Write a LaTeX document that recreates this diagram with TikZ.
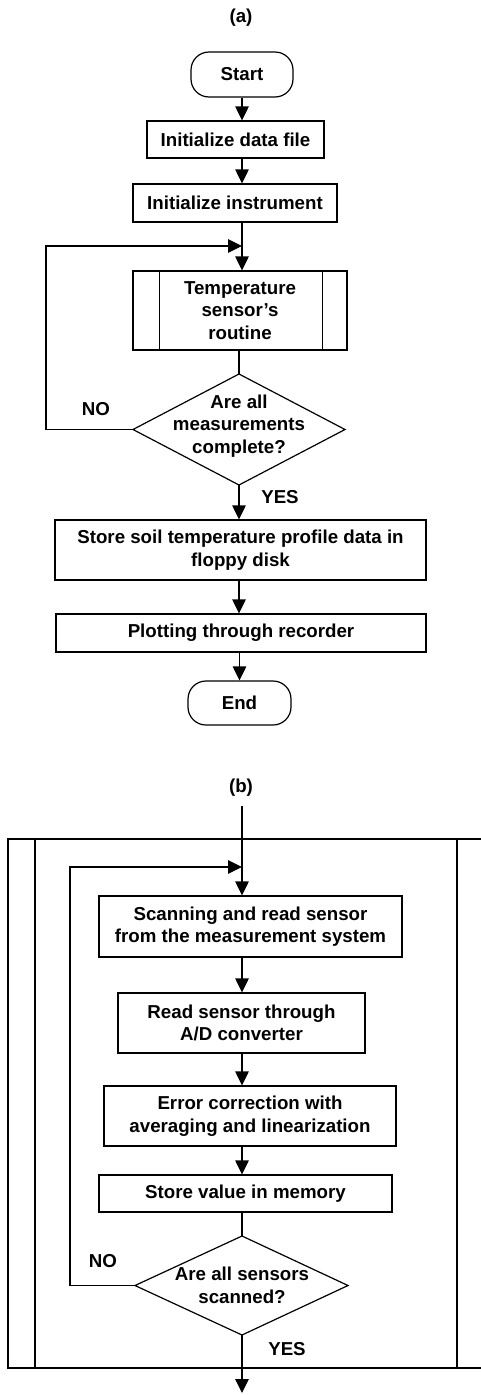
\documentclass[tikz,border=0pt]{standalone}
\usepackage{fontspec}
\setmainfont{Liberation Sans}
\usetikzlibrary{arrows.meta}
\begin{document}
\begin{tikzpicture}[x=1pt,y=-1pt,
  every node/.style={font=\fontsize{18.7}{22.5}\selectfont\bfseries},
  box/.style={draw, line width=1.2pt, inner sep=0pt, align=center},
  term/.style={box, rounded corners=18pt},
  ln/.style={line width=1.2pt},
  arr/.style={ln, -{Triangle[length=14pt,width=13.5pt]}},
  lbl/.style={inner sep=0pt}]
\useasboundingbox (0,0) rectangle (481,1395);
% ---------------- (a) ----------------
\node[lbl] (ta) at (241,18) {(a)};
\node[term, minimum width=102pt, minimum height=45pt] (start) at (242,74.5) {Start};
\node[box, minimum width=177pt, minimum height=37pt] (init1) at (235.5,139.5) {Initialize data file};
\node[box, minimum width=204pt, minimum height=38pt] (init2) at (235,203) {Initialize instrument};
\node[box, minimum width=214pt, minimum height=79pt] (temp) at (240,310.5) {Temperature\\sensor's\\routine};
\draw[ln] ([xshift=27pt]temp.north west) -- ([xshift=27pt]temp.south west);
\draw[ln] ([xshift=-25pt]temp.north east) -- ([xshift=-25pt]temp.south east);
\coordinate (d1t) at (239,374);
\coordinate (d1r) at (345,429.5);
\coordinate (d1b) at (239,485);
\coordinate (d1l) at (133,429.5);
\draw[ln] (d1t) -- (d1r) -- (d1b) -- (d1l) -- cycle;
\node[lbl, align=center] (d1) at (239,426) {Are all\\measurements\\complete?};
\node[lbl] (no1) at (96,409) {NO};
\node[lbl] (yes1) at (280,497) {YES};
\node[box, minimum width=371pt, minimum height=60pt] (store) at (240.5,550) {Store soil temperature profile data in\\floppy disk};
\node[box, minimum width=370pt, minimum height=38pt] (plot) at (241,633) {Plotting through recorder};
\node[term, minimum width=103pt, minimum height=44pt] (end) at (239.5,703) {End};
\coordinate (j1) at (242,246);
\draw[arr] (start.south) -- (start.south |- init1.north);
\draw[arr] (start.south |- init1.south) -- (start.south |- init2.north);
\draw[ln] (j1 |- init2.south) -- (j1);
\draw[arr] (j1) -- (j1 |- temp.north);
\draw[ln] (d1t |- temp.south) -- (d1t);
\draw[arr] (d1l) -- ++(-87,0) |- (j1);
\draw[arr] (d1b) -- (d1b |- store.north);
\draw[arr] (d1b |- store.south) -- (d1b |- plot.north);
\draw[arr] (end.north |- plot.south) -- (end.north);
% ---------------- (b) ----------------
\node[lbl] (tb) at (241,788) {(b)};
\coordinate (in) at (242,806);
\coordinate (j2) at (242,867);
\draw[ln] (481,839) -- (8,839) -- (8,1368) -- (481,1368);
\draw[ln] (35,839) -- (35,1368);
\draw[ln] (457,839) -- (457,1368);
\node[box, minimum width=303pt, minimum height=61pt] (scan) at (250.5,926.5) {Scanning and read sensor\\from the measurement system};
\node[box, minimum width=247pt, minimum height=60pt] (read) at (241.5,1023) {Read sensor through\\A/D converter};
\node[box, minimum width=292pt, minimum height=60pt] (err) at (250,1116) {Error correction with\\averaging and linearization};
\node[box, minimum width=293pt, minimum height=37pt] (mem) at (245.5,1193.5) {Store value in memory};
\coordinate (d2t) at (242,1236);
\coordinate (d2r) at (348,1285.5);
\coordinate (d2b) at (242,1335);
\coordinate (d2l) at (135,1285.5);
\draw[ln] (d2t) -- (d2r) -- (d2b) -- (d2l) -- cycle;
\node[lbl, align=center] (d2) at (242,1285.5) {Are all sensors\\scanned?};
\node[lbl] (no2) at (103,1261) {NO};
\node[lbl] (yes2) at (287,1349) {YES};
\coordinate (out) at (242,1393);
\draw[ln] (in) -- (j2);
\draw[arr] (j2) -- (j2 |- scan.north);
\draw[arr] (j2 |- scan.south) -- (j2 |- read.north);
\draw[arr] (j2 |- read.south) -- (j2 |- err.north);
\draw[arr] (j2 |- err.south) -- (j2 |- mem.north);
\draw[ln] (j2 |- mem.south) -- (d2t);
\draw[arr] (d2l) -- ++(-65,0) |- (j2);
\draw[arr] (d2b) -- (out);
\end{tikzpicture}
\end{document}
